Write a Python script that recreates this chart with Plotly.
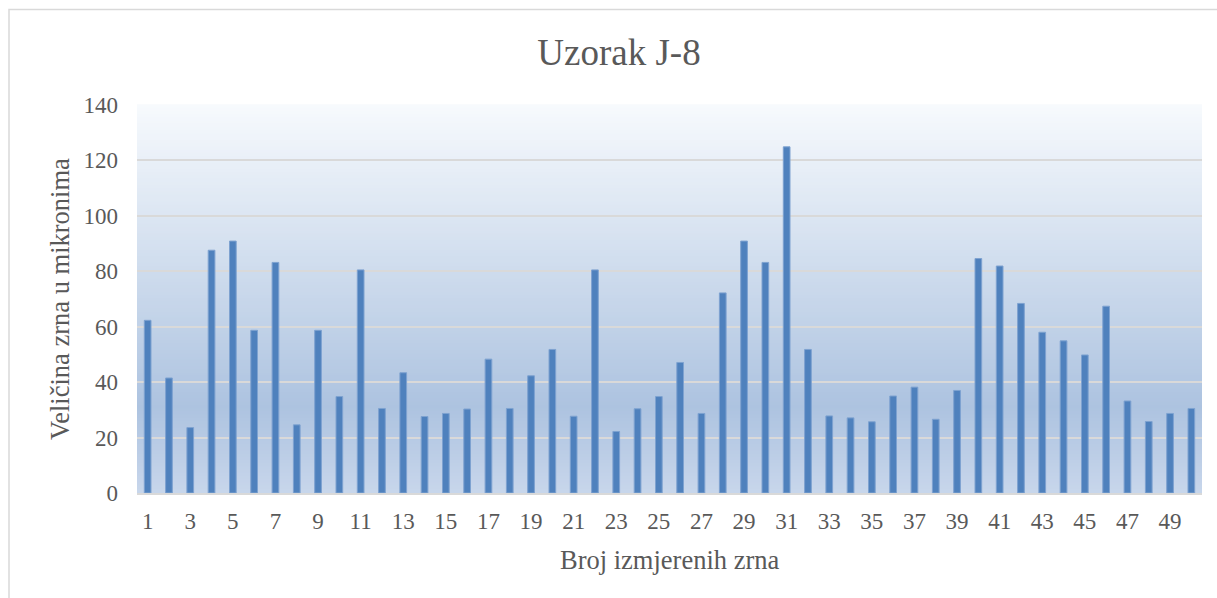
import plotly.graph_objects as go

# ---- data ----
categories = list(range(1, 51))
values = [62.3, 41.5, 23.6, 87.6, 90.9, 58.7, 83.2, 24.6, 58.7, 34.8,
          80.5, 30.5, 43.4, 27.6, 28.7, 30.3, 48.3, 30.5, 42.3, 51.8,
          27.7, 80.5, 22.2, 30.4, 34.8, 47.1, 28.7, 72.2, 90.9, 83.2,
          124.9, 51.8, 27.8, 27.1, 25.7, 35.0, 38.2, 26.6, 37.0, 84.6,
          81.9, 68.4, 58.0, 54.9, 49.8, 67.4, 33.2, 25.8, 28.7, 30.5]
x_tick_vals = list(range(1, 51, 2))
x_tick_text = [str(v) for v in x_tick_vals]
y_tick_vals = [0, 20, 40, 60, 80, 100, 120, 140]
title_text = "Uzorak J-8"
x_title = "Broj izmjerenih zrna"
y_title = "Veličina zrna u mikronima"

FONT = "Liberation Serif"
TXT = "#595959"

W, H = 1217, 598
ML, MR, MT, MB = 137, 15, 105, 105
PW, PH = W - ML - MR, H - MT - MB

fig = go.Figure()
fig.add_trace(go.Bar(
    x=categories, y=values,
    marker=dict(color="#4F81BD", line=dict(color="#7EA2D0", width=1)),
    showlegend=False,
))

# gradient background strips
def lerp(c1, c2, t):
    return tuple(round(a + (b - a) * t) for a, b in zip(c1, c2))

stops = [(0.0, (247, 250, 253)), (0.78, (173, 195, 224)), (1.0, (199, 214, 235))]
shapes = []
N = 120
for i in range(N):
    f0 = i / N
    f1 = (i + 1) / N
    fm = (f0 + f1) / 2  # fraction from top
    for j in range(len(stops) - 1):
        if stops[j][0] <= fm <= stops[j + 1][0]:
            t = (fm - stops[j][0]) / (stops[j + 1][0] - stops[j][0])
            c = lerp(stops[j][1], stops[j + 1][1], t)
            break
    shapes.append(dict(type="rect", xref="x domain", yref="y domain",
                       x0=0, x1=1, y0=1 - f1, y1=1 - f0 + 0.002,
                       fillcolor="rgb(%d,%d,%d)" % c, line=dict(width=0),
                       layer="below"))

# outer chart frame
shapes.append(dict(type="rect", xref="paper", yref="paper",
                   x0=(9 - ML) / PW, x1=(W + 20 - ML) / PW,
                   y0=-(MB + 20) / PH, y1=(H - 9.5 - MB) / PH,
                   line=dict(color="#D9D9D9", width=1.5),
                   fillcolor="rgba(0,0,0,0)", layer="below"))

fig.update_layout(
    width=W, height=H,
    margin=dict(l=ML, r=MR, t=MT, b=MB, autoexpand=False),
    paper_bgcolor="white",
    plot_bgcolor="rgba(0,0,0,0)",
    bargap=0.685,
    shapes=shapes,
    font=dict(family=FONT, color=TXT),
    title=dict(text=title_text, font=dict(family=FONT, size=37, color=TXT),
               x=(619 - ML) / PW, xref="paper", xanchor="center",
               y=1 - 52 / H, yref="container", yanchor="middle"),
    annotations=[
        dict(text=x_title, xref="paper", yref="paper", x=0.5,
             y=-(560 - (H - MB)) / PH, xanchor="center", yanchor="middle",
             showarrow=False, font=dict(family=FONT, size=26.5, color=TXT)),
        dict(text=y_title, xref="paper", yref="paper", x=(60 - ML) / PW,
             y=0.5, xanchor="center", yanchor="middle", textangle=-90,
             showarrow=False, font=dict(family=FONT, size=26.5, color=TXT)),
    ],
)

fig.update_xaxes(
    range=[0.5, 50.5], tickmode="array", tickvals=x_tick_vals,
    ticktext=x_tick_text, showgrid=False, zeroline=False,
    showline=True, linecolor="#D9D9D9", linewidth=1.5,
    ticks="", ticklabelstandoff=7,
    tickfont=dict(family=FONT, size=23, color=TXT),
)
fig.update_yaxes(
    range=[0, 140], tickmode="array", tickvals=y_tick_vals,
    showgrid=True, gridcolor="#D9D9D9", gridwidth=1.5,
    zeroline=False, showline=False, ticks="", ticklabelstandoff=18,
    tickfont=dict(family=FONT, size=23, color=TXT),
)

fig.write_html("out.html",
               config={"displayModeBar": False},
               post_script="document.body.style.margin='0';document.body.style.padding='0';")
